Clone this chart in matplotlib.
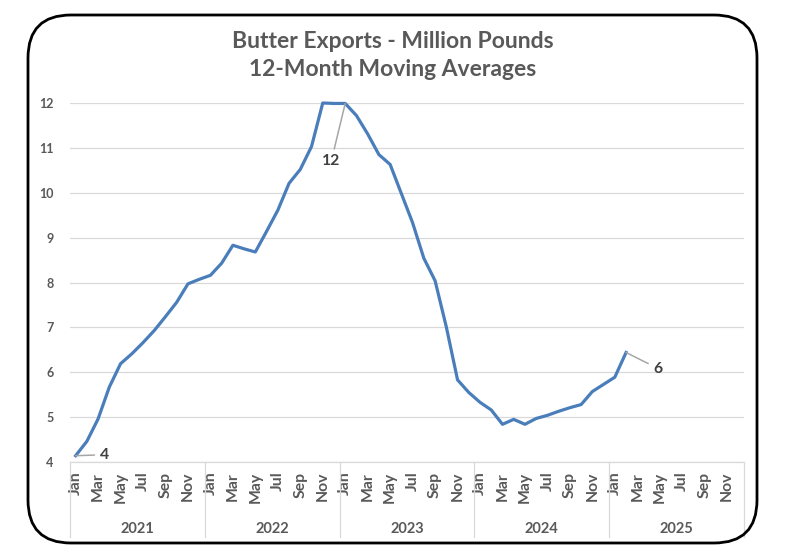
import matplotlib
matplotlib.use("Agg")
import matplotlib.pyplot as plt
from matplotlib import font_manager as fm
from matplotlib.patches import FancyBboxPatch
from matplotlib.transforms import blended_transform_factory

# pick a family that really has a bold face installed
def has_bold(name):
    for f in fm.fontManager.ttflist:
        if f.name == name:
            w = f.weight if isinstance(f.weight, int) else fm.weight_dict.get(f.weight, 400)
            if w >= 700:
                return True
    return False

FAMILY = 'DejaVu Sans'
for cand in ['Lato', 'Open Sans', 'Noto Sans', 'Roboto', 'Liberation Sans']:
    if has_bold(cand):
        FAMILY = cand
        break
plt.rcParams['font.family'] = [FAMILY, 'DejaVu Sans']

# ---------------- data ----------------
years = ["2021", "2022", "2023", "2024", "2025"]
months = ["Jan", "Feb", "Mar", "Apr", "May", "Jun",
          "Jul", "Aug", "Sep", "Oct", "Nov", "Dec"]
month_tick_labels = ["Jan", "Mar", "May", "Jul", "Sep", "Nov"]

values_2021 = [4.14, 4.46, 4.96, 5.67, 6.19, 6.41, 6.66, 6.93, 7.24, 7.56, 7.97, 8.07]
values_2022 = [8.16, 8.43, 8.83, 8.75, 8.68, 9.14, 9.61, 10.21, 10.52, 11.03, 12.00, 11.99]
values_2023 = [11.99, 11.72, 11.31, 10.85, 10.63, 9.98, 9.33, 8.54, 8.04, 7.01, 5.83, 5.55]
values_2024 = [5.33, 5.16, 4.84, 4.95, 4.84, 4.97, 5.04, 5.13, 5.21, 5.28, 5.57, 5.73]
values_2025 = [5.89, 6.44]

title_line1 = "Butter Exports - Million Pounds"
title_line2 = "12-Month Moving Averages"

# labelled points: (index into series, label text)
label_points = [(0, "4"), (24, "12"), (49, "6")]

# ---------------- styles ----------------
W, H, DPI = 786, 558, 100
GRAY_TXT = "#595959"
LABEL_TXT = "#404040"
GRID = "#d9d9d9"
LINE = "#4a7ebb"
LEADER = "#a6a6a6"

series = values_2021 + values_2022 + values_2023 + values_2024 + values_2025
n_cat = len(years) * len(months)
x = list(range(len(series)))

fig = plt.figure(figsize=(W / DPI, H / DPI), dpi=DPI)

# plot area in pixels
L, R, T, B = 70, 744, 103, 462
ax = fig.add_axes([L / W, 1 - B / H, (R - L) / W, (B - T) / H])

ax.plot(x, series, color=LINE, lw=2.3, solid_joinstyle='round', clip_on=False, zorder=3)

ax.set_xlim(-0.5, n_cat - 0.5)
ax.set_ylim(4, 12)
ax.set_yticks(range(4, 13))
ax.yaxis.grid(True, color=GRID, lw=0.9)
ax.set_axisbelow(True)

for s in ["top", "right", "left"]:
    ax.spines[s].set_visible(False)
ax.spines["bottom"].set_color(GRID)
ax.spines["bottom"].set_linewidth(0.9)

ax.tick_params(axis='y', length=0, pad=12, labelsize=9, labelcolor=GRAY_TXT)
for lab in ax.get_yticklabels():
    lab.set_fontweight('bold')

tick_pos = []
tick_lab = []
for yi in range(len(years)):
    for mi, m in enumerate(months):
        if m in month_tick_labels:
            tick_pos.append(yi * 12 + mi)
            tick_lab.append(m)
ax.set_xticks(tick_pos)
ax.set_xticklabels(tick_lab, rotation=90, fontweight='bold', fontsize=11.3, color=GRAY_TXT)
ax.tick_params(axis='x', length=0, pad=7)

# year group labels and separators
trans = blended_transform_factory(ax.transData, ax.transAxes)
sep_bottom = (B - 537) / (B - T)
year_base = (B - 533) / (B - T)
for yi, yr in enumerate(years):
    ax.text(yi * 12 + 5.5, year_base, yr, transform=trans, ha='center', va='baseline',
            fontsize=10.5, fontweight='bold', color=GRAY_TXT)
for k in range(len(years) + 1):
    ax.plot([k * 12 - 0.5, k * 12 - 0.5], [0, sep_bottom], transform=trans,
            color=GRID, lw=0.9, clip_on=False)

# data labels with leader lines (offsets in pixels)
offsets = {0: (29, 1), 24: (-14, -58), 49: (32, -16)}
for idx, txt in label_points:
    dx, dy = offsets[idx]
    ax.annotate(txt, xy=(idx, series[idx]), xytext=(dx, dy), textcoords='offset pixels',
                ha='center', va='center', fontsize=11.3, fontweight='bold', color=LABEL_TXT,
                arrowprops=dict(arrowstyle='-', color=LEADER, lw=1.1, shrinkA=2, shrinkB=0),
                annotation_clip=False, zorder=4)

# title
fig.text(393 / W, 1 - 48 / H, title_line1, ha='center', va='baseline',
         fontsize=16.5, fontweight='bold', color=GRAY_TXT)
fig.text(393 / W, 1 - 76 / H, title_line2, ha='center', va='baseline',
         fontsize=16.5, fontweight='bold', color=GRAY_TXT)

# rounded chart border (inches coordinates for uniform rounding)
bx0, by0, bx1, by1 = 28, 15, 757, 543
border = FancyBboxPatch((bx0 / DPI, (H - by1) / DPI), (bx1 - bx0) / DPI, (by1 - by0) / DPI,
                        boxstyle="round,pad=0,rounding_size=0.43",
                        transform=fig.dpi_scale_trans, fill=False,
                        edgecolor='black', lw=2.0, zorder=10)
fig.add_artist(border)

fig.savefig("out.png", dpi=DPI, facecolor='white')
